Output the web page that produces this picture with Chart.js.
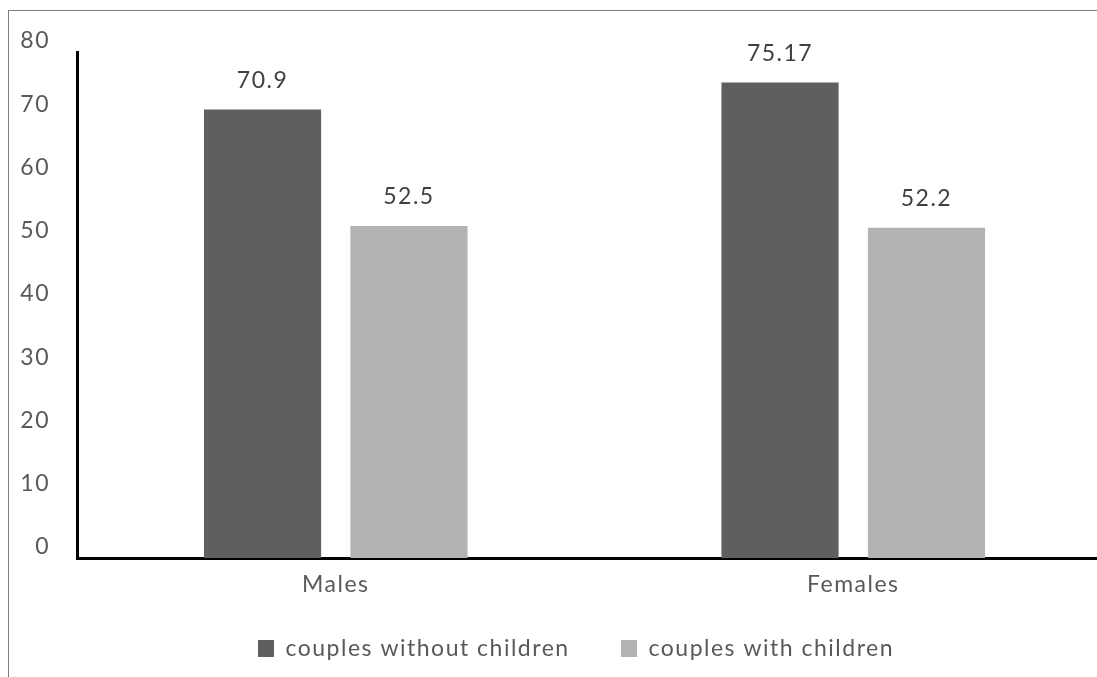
<!DOCTYPE html>
<html>
<head>
<meta charset="utf-8">
<script src="https://cdn.jsdelivr.net/npm/chart.js@4"></script>
<style>
  html, body { margin: 0; padding: 0; background: #fff; overflow: hidden; }
  #wrap { position: relative; width: 1097px; height: 677px; overflow: hidden; }
  #frame { position: absolute; left: 8px; top: 10px; width: 1200px; height: 800px; border: 1px solid #7f7f7f; }
  #grafico { position: absolute; left: 0; top: 0; }
</style>
</head>
<body>
<div id="wrap">
  <div id="frame"></div>
  <canvas id="grafico" width="1160" height="677"></canvas>
</div>
<script>
const categorias = ['Males', 'Females'];
const semFilhos = [70.9, 75.17];
const comFilhos = [52.5, 52.2];
const ticksY = [0, 10, 20, 30, 40, 50, 60, 70, 80];

const fonte = { family: 'Lato, "Open Sans", sans-serif', size: 23 };
const corTexto = '#595959';
const espacamento = '1.5px';

// texto do Excel sai mais espaçado
const pluginEspaco = {
  id: 'espaco',
  beforeUpdate(chart) { chart.ctx.letterSpacing = espacamento; },
  beforeDraw(chart) { chart.ctx.letterSpacing = espacamento; }
};

// rótulos de valor acima das barras
const pluginRotulos = {
  id: 'rotulos',
  afterDatasetsDraw(chart) {
    const { ctx } = chart;
    ctx.save();
    ctx.font = `${fonte.size}px ${fonte.family}`;
    ctx.fillStyle = '#404040';
    ctx.textAlign = 'center';
    ctx.textBaseline = 'middle';
    chart.data.datasets.forEach((ds, i) => {
      chart.getDatasetMeta(i).data.forEach((bar, j) => {
        ctx.fillText(String(ds.data[j]), bar.x, bar.y - 29);
      });
    });
    ctx.restore();
  }
};

new Chart(document.getElementById('grafico').getContext('2d'), {
  type: 'bar',
  data: {
    labels: categorias,
    datasets: [
      {
        label: 'couples without children',
        data: semFilhos,
        backgroundColor: '#5f5f5f',
        borderWidth: 0,
        categoryPercentage: 0.566,
        barPercentage: 0.8,
      },
      {
        label: 'couples with children',
        data: comFilhos,
        backgroundColor: '#b2b2b2',
        borderWidth: 0,
        categoryPercentage: 0.566,
        barPercentage: 0.8,
      }
    ]
  },
  plugins: [pluginEspaco, pluginRotulos],
  options: {
    responsive: false,
    animation: false,
    layout: { padding: { left: 0, right: 8, top: 52, bottom: 7 } },
    plugins: {
      tooltip: { enabled: false },
      legend: {
        position: 'bottom',
        labels: {
          font: fonte,
          color: corTexto,
          boxWidth: 16,
          boxHeight: 17,
          padding: 44,
          generateLabels(chart) {
            const itens = Chart.defaults.plugins.legend.labels.generateLabels(chart);
            itens[0].text += ' '; // afasta um pouco o segundo item
            return itens;
          }
        }
      }
    },
    scales: {
      x: {
        grid: { display: false, drawTicks: false },
        border: { display: true, color: '#000', width: 3 },
        ticks: { font: fonte, color: corTexto, padding: 13 },
        afterFit(scale) { scale.height = 35; }
      },
      y: {
        min: 0,
        max: 80,
        afterBuildTicks(scale) { scale.ticks = ticksY.map(v => ({ value: v })); },
        grid: { display: false, drawTicks: false },
        border: { display: true, color: '#000', width: 3 },
        ticks: { font: fonte, color: corTexto, padding: 27, labelOffset: -11 },
        afterFit(scale) { scale.width = 77; }
      },
      // eixo vazio à direita, só para reservar espaço
      direita: {
        axis: 'y',
        position: 'right',
        grid: { display: false, drawTicks: false },
        border: { display: false },
        ticks: { display: false },
        afterFit(scale) { scale.width = 40; }
      }
    }
  }
});
</script>
</body>
</html>
